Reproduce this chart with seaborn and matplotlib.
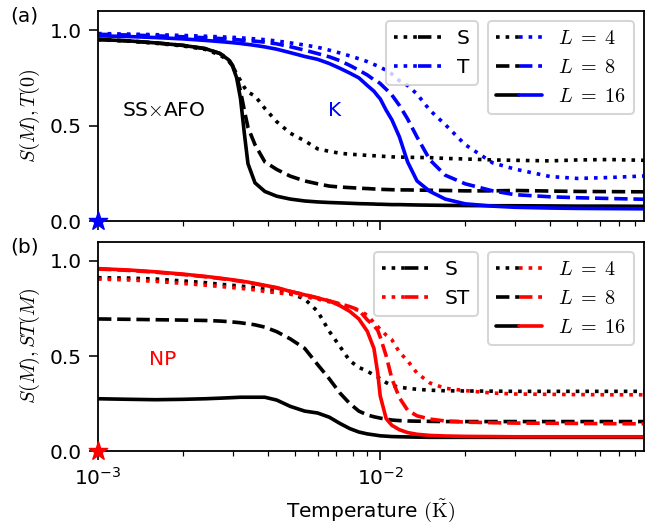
import matplotlib
matplotlib.use("Agg")
import matplotlib.pyplot as plt
from matplotlib.lines import Line2D
from matplotlib.legend_handler import HandlerTuple
import seaborn as sns

# temperature grid shared by all curves
temps = [1.0e-3, 1.3e-3, 1.6e-3, 2.0e-3, 2.4e-3, 2.7e-3, 2.9e-3, 3.0e-3, 3.1e-3, 3.2e-3,
         3.3e-3, 3.4e-3, 3.6e-3, 3.9e-3, 4.3e-3, 4.8e-3, 5.4e-3, 6.0e-3, 6.6e-3, 7.2e-3,
         7.8e-3, 8.4e-3, 9.0e-3, 9.5e-3, 9.8e-3, 1.0e-2, 1.05e-2, 1.1e-2, 1.17e-2, 1.25e-2,
         1.35e-2, 1.5e-2, 1.7e-2, 2.0e-2, 2.5e-2, 3.0e-2, 4.0e-2, 5.0e-2, 6.5e-2, 8.6e-2]

# panel (a): S(M) and T(0), SSxAFO / K
a_S_L4 = [0.95, 0.942, 0.931, 0.917, 0.899, 0.87, 0.84, 0.81, 0.77, 0.735,
          0.70, 0.675, 0.655, 0.59, 0.52, 0.46, 0.42, 0.378, 0.365, 0.355,
          0.35, 0.347, 0.344, 0.342, 0.341, 0.34, 0.338, 0.336, 0.335, 0.334,
          0.333, 0.332, 0.328, 0.325, 0.32, 0.318, 0.315, 0.32, 0.322, 0.318]
a_S_L8 = [0.951, 0.943, 0.933, 0.92, 0.903, 0.878, 0.848, 0.815, 0.76, 0.68,
          0.58, 0.49, 0.40, 0.31, 0.27, 0.235, 0.21, 0.195, 0.183, 0.178,
          0.175, 0.172, 0.17, 0.168, 0.167, 0.166, 0.165, 0.164, 0.163, 0.163,
          0.162, 0.161, 0.16, 0.158, 0.158, 0.16, 0.157, 0.155, 0.154, 0.153]
a_S_L16 = [0.951, 0.943, 0.933, 0.92, 0.903, 0.878, 0.845, 0.81, 0.75, 0.64,
           0.46, 0.30, 0.20, 0.155, 0.13, 0.115, 0.105, 0.10, 0.097, 0.095,
           0.093, 0.091, 0.09, 0.089, 0.088, 0.088, 0.087, 0.086, 0.086, 0.085,
           0.084, 0.083, 0.082, 0.081, 0.08, 0.08, 0.079, 0.078, 0.078, 0.077]
a_T_L4 = [0.982, 0.979, 0.976, 0.972, 0.968, 0.965, 0.963, 0.962, 0.961, 0.96,
          0.958, 0.957, 0.954, 0.95, 0.943, 0.933, 0.922, 0.91, 0.895, 0.88,
          0.865, 0.85, 0.835, 0.82, 0.812, 0.805, 0.79, 0.77, 0.735, 0.71,
          0.665, 0.58, 0.505, 0.40, 0.305, 0.272, 0.233, 0.223, 0.228, 0.236]
a_T_L8 = [0.978, 0.974, 0.97, 0.965, 0.96, 0.956, 0.953, 0.951, 0.95, 0.948,
          0.946, 0.945, 0.942, 0.937, 0.928, 0.913, 0.895, 0.877, 0.86, 0.84,
          0.815, 0.79, 0.765, 0.74, 0.73, 0.72, 0.69, 0.66, 0.605, 0.535,
          0.44, 0.32, 0.24, 0.195, 0.158, 0.138, 0.127, 0.122, 0.118, 0.114]
a_T_L16 = [0.97, 0.966, 0.961, 0.954, 0.946, 0.94, 0.936, 0.934, 0.932, 0.93,
           0.927, 0.925, 0.92, 0.912, 0.9, 0.882, 0.862, 0.847, 0.825, 0.80,
           0.775, 0.75, 0.71, 0.68, 0.655, 0.64, 0.58, 0.53, 0.44, 0.31,
           0.21, 0.155, 0.115, 0.09, 0.078, 0.072, 0.068, 0.066, 0.065, 0.064]

# panel (b): S(M) and ST(M), NP
b_S_L4 = [0.912, 0.91, 0.905, 0.895, 0.886, 0.878, 0.874, 0.872, 0.87, 0.868,
          0.866, 0.864, 0.86, 0.852, 0.843, 0.83, 0.80, 0.735, 0.63, 0.55,
          0.475, 0.44, 0.42, 0.40, 0.39, 0.38, 0.36, 0.345, 0.336, 0.33,
          0.325, 0.32, 0.317, 0.316, 0.315, 0.314, 0.314, 0.314, 0.314, 0.314]
b_S_L8 = [0.695, 0.693, 0.691, 0.689, 0.687, 0.684, 0.681, 0.679, 0.677, 0.675,
          0.672, 0.67, 0.664, 0.652, 0.628, 0.59, 0.54, 0.455, 0.38, 0.305,
          0.25, 0.21, 0.19, 0.18, 0.176, 0.173, 0.168, 0.163, 0.16, 0.158,
          0.157, 0.156, 0.155, 0.155, 0.155, 0.155, 0.155, 0.155, 0.155, 0.155]
b_S_L16 = [0.275, 0.272, 0.27, 0.272, 0.275, 0.278, 0.28, 0.281, 0.282, 0.283,
           0.283, 0.283, 0.283, 0.283, 0.268, 0.235, 0.21, 0.2, 0.178, 0.145,
           0.118, 0.10, 0.09, 0.085, 0.082, 0.08, 0.078, 0.076, 0.075, 0.074,
           0.073, 0.072, 0.072, 0.072, 0.072, 0.072, 0.072, 0.072, 0.072, 0.072]
b_ST_L4 = [0.905, 0.90, 0.893, 0.882, 0.873, 0.866, 0.862, 0.86, 0.858, 0.856,
           0.854, 0.852, 0.848, 0.84, 0.833, 0.825, 0.812, 0.80, 0.785, 0.772,
           0.755, 0.74, 0.715, 0.675, 0.655, 0.64, 0.61, 0.585, 0.52, 0.475,
           0.41, 0.358, 0.33, 0.318, 0.305, 0.30, 0.298, 0.297, 0.296, 0.296]
b_ST_L8 = [0.958, 0.95, 0.941, 0.929, 0.917, 0.908, 0.902, 0.899, 0.896, 0.893,
           0.89, 0.887, 0.88, 0.87, 0.858, 0.84, 0.823, 0.806, 0.79, 0.775,
           0.76, 0.742, 0.69, 0.66, 0.635, 0.60, 0.50, 0.38, 0.28, 0.215,
           0.185, 0.168, 0.158, 0.152, 0.149, 0.147, 0.146, 0.145, 0.144, 0.143]
b_ST_L16 = [0.96, 0.952, 0.943, 0.931, 0.919, 0.91, 0.904, 0.901, 0.898, 0.895,
            0.892, 0.889, 0.882, 0.872, 0.86, 0.84, 0.822, 0.805, 0.79, 0.765,
            0.735, 0.695, 0.63, 0.54, 0.41, 0.29, 0.17, 0.135, 0.112, 0.097,
            0.088, 0.082, 0.079, 0.077, 0.076, 0.075, 0.075, 0.075, 0.075, 0.075]

sizes = [4, 8, 16]
size_styles = {4: ':', 8: '--', 16: '-'}
star_T = [1.0e-3]
star_val = [0.0]

sns.set_style("ticks", {"axes.edgecolor": "black", "xtick.color": "black",
                        "ytick.color": "black", "text.color": "black",
                        "axes.labelcolor": "black"})
plt.rcParams['font.family'] = ['DejaVu Sans']
plt.rcParams['mathtext.fontset'] = 'cm'
plt.rcParams['font.size'] = 10
plt.rcParams['axes.linewidth'] = 0.9
plt.rcParams['xtick.major.size'] = 4.5
plt.rcParams['ytick.major.size'] = 4.5
plt.rcParams['xtick.minor.size'] = 2.6

DPI = 145
fig = plt.figure(figsize=(651 / DPI, 527 / DPI), dpi=DPI)
ax1 = fig.add_axes([0.1505, 0.5806, 0.8387, 0.3985])
ax2 = fig.add_axes([0.1505, 0.1442, 0.8387, 0.3966], sharex=ax1)

LW = 1.8

panels = [
    (ax1, 'blue', {4: a_S_L4, 8: a_S_L8, 16: a_S_L16}, {4: a_T_L4, 8: a_T_L8, 16: a_T_L16}),
    (ax2, 'red', {4: b_S_L4, 8: b_S_L8, 16: b_S_L16}, {4: b_ST_L4, 8: b_ST_L8, 16: b_ST_L16}),
]

for ax, col, s_data, o_data in panels:
    for L in sizes:
        sns.lineplot(x=temps, y=s_data[L], ax=ax, color='black',
                     linestyle=size_styles[L], lw=LW)
    for L in sizes:
        sns.lineplot(x=temps, y=o_data[L], ax=ax, color=col,
                     linestyle=size_styles[L], lw=LW)
    sns.scatterplot(x=star_T, y=star_val, ax=ax, marker='*', s=90, color=col,
                    edgecolor=col, clip_on=False, zorder=5)
    ax.set_xscale('log')
    ax.set_xlim(1e-3, 0.086)
    ax.set_ylim(0, 1.1)
    ax.set_yticks([0.0, 0.5, 1.0])
    ax.set_yticklabels(['0.0', '0.5', '1.0'])

    # legends: quantity and system size
    other = 'T' if col == 'blue' else 'ST'
    qh = [(Line2D([], [], color='black', ls=':', lw=LW), Line2D([], [], color='black', ls='--', lw=LW)),
          (Line2D([], [], color=col, ls=':', lw=LW), Line2D([], [], color=col, ls='--', lw=LW))]
    leg1 = ax.legend(qh, ['S', other], handler_map={tuple: HandlerTuple(ndivide=None, pad=0)},
                     loc='upper right', bbox_to_anchor=(0.714, 1.0), handlelength=2.3,
                     fontsize=10)
    lh = [(Line2D([], [], color='black', ls=size_styles[L], lw=LW),
           Line2D([], [], color=col, ls=size_styles[L], lw=LW)) for L in sizes]
    ax.add_artist(leg1)
    ax.legend(lh, [rf'$L\;=\;{L}$' for L in sizes], handler_map={tuple: HandlerTuple(ndivide=None, pad=0)},
              loc='upper right', handlelength=2.3, fontsize=10)

plt.setp(ax1.get_xticklabels(), visible=False)
ax1.set_xlabel('')
ax1.set_ylabel('$S(M),T(0)$')
ax2.set_ylabel('$S(M),ST(M)$')
ax2.set_xlabel(r'Temperature $(\tilde{\mathrm{K}})$')

ax1.text(1.71e-3, 0.58, 'SS$\\times$AFO', ha='center', va='center', fontsize=10)
ax1.text(6.9e-3, 0.58, 'K', ha='center', va='center', color='blue', fontsize=10)
ax2.text(1.7e-3, 0.48, 'NP', ha='center', va='center', color='red', fontsize=10)

fig.text(0.038, 0.97, '(a)', ha='center', va='center', fontsize=10)
fig.text(0.038, 0.531, '(b)', ha='center', va='center', fontsize=10)

fig.savefig('out.png', dpi=DPI)
